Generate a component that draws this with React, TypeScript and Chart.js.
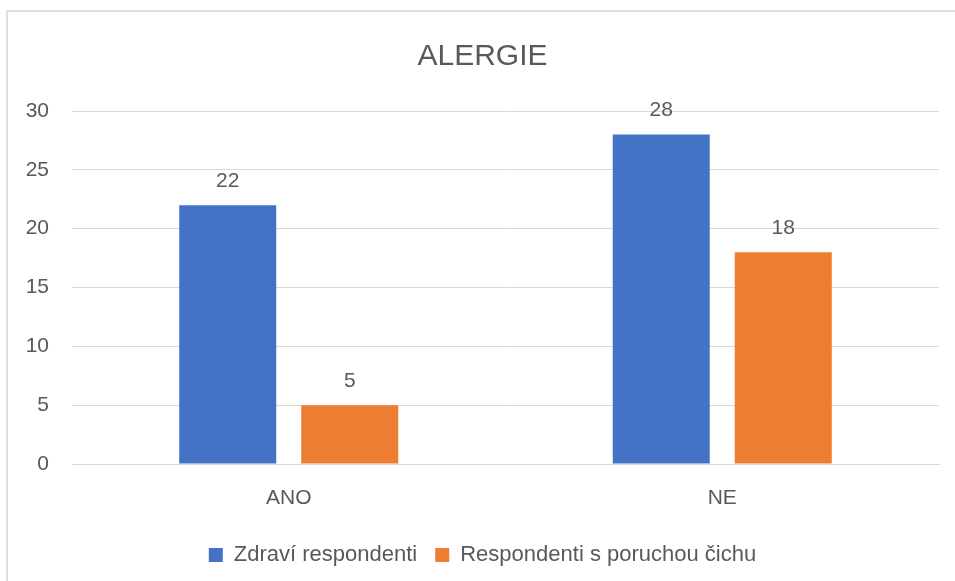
import React, { useEffect, useRef } from "react";
import { Chart, registerables } from "chart.js";

Chart.register(...registerables);

const categories = ["ANO", "NE"];
const seriesNames = ["Zdraví respondenti", "Respondenti s poruchou čichu"];
const healthy = [22, 28];
const smellDisorder = [5, 18];
const yTicks = [0, 5, 10, 15, 20, 25, 30];

const FONT = "'Liberation Sans', Arial, sans-serif";
const TEXT = "#595959";

const dataLabels = {
  id: "dataLabels",
  afterDatasetsDraw(chart: any) {
    const ctx = chart.ctx;
    ctx.save();
    ctx.fillStyle = TEXT;
    ctx.font = `21px ${FONT}`;
    ctx.textAlign = "center";
    ctx.textBaseline = "middle";
    chart.data.datasets.forEach((ds: any, i: number) => {
      const meta = chart.getDatasetMeta(i);
      meta.data.forEach((el: any, j: number) => {
        ctx.fillText(String(ds.data[j]), el.x, el.y - 24);
      });
    });
    ctx.restore();
  },
};

export default function App() {
  const ref = useRef<HTMLCanvasElement>(null);
  useEffect(() => {
    const chart = new Chart(ref.current!, {
      type: "bar",
      data: {
        labels: categories,
        datasets: [
          { label: seriesNames[0], data: healthy, backgroundColor: "#4472C4", barPercentage: 0.795, categoryPercentage: 0.563 },
          { label: seriesNames[1], data: smellDisorder, backgroundColor: "#ED7D31", barPercentage: 0.795, categoryPercentage: 0.563 },
        ],
      },
      options: {
        animation: false,
        responsive: false,
        maintainAspectRatio: false,
        layout: { padding: { left: 26, right: 16, top: 0, bottom: 5 } },
        plugins: {
          title: {
            display: true,
            text: "ALERGIE",
            color: TEXT,
            font: { family: FONT, size: 30, weight: "normal", lineHeight: 1.2 },
            padding: { top: 39, bottom: 36 },
          },
          legend: {
            position: "bottom",
            labels: {
              color: TEXT,
              font: { family: FONT, size: 22 },
              boxWidth: 14,
              boxHeight: 14,
              padding: 18,
            },
          },
          tooltip: { enabled: false },
        },
        scales: {
          x: {
            grid: { display: false },
            border: { display: true, color: "#d9d9d9", width: 1 },
            ticks: { color: TEXT, font: { family: FONT, size: 21 }, padding: 14 },
            afterFit: (axis: any) => {
              axis.height = 62;
            },
          },
          y: {
            min: 0,
            max: 30,
            afterBuildTicks: (axis: any) => {
              axis.ticks = yTicks.map((v) => ({ value: v }));
            },
            afterFit: (axis: any) => {
              axis.width = 46;
            },
            grid: { color: "#d9d9d9", lineWidth: 1, drawTicks: false },
            border: { display: false },
            ticks: { color: TEXT, font: { family: FONT, size: 21 }, padding: 23 },
          },
        },
      },
      plugins: [dataLabels],
    });
    return () => chart.destroy();
  }, []);
  return (
    <div style={{ position: "fixed", left: 0, top: 0, width: 955, height: 581, overflow: "hidden", background: "#fff" }}>
      <div
        style={{
          position: "absolute",
          left: 6,
          top: 10,
          width: 1000,
          height: 700,
          borderLeft: "2px solid #dedede",
          borderTop: "2px solid #dedede",
        }}
      />
      <canvas
        ref={ref}
        width={955}
        height={581}
        style={{ position: "absolute", left: 0, top: 0, display: "block" }}
      />
    </div>
  );
}
